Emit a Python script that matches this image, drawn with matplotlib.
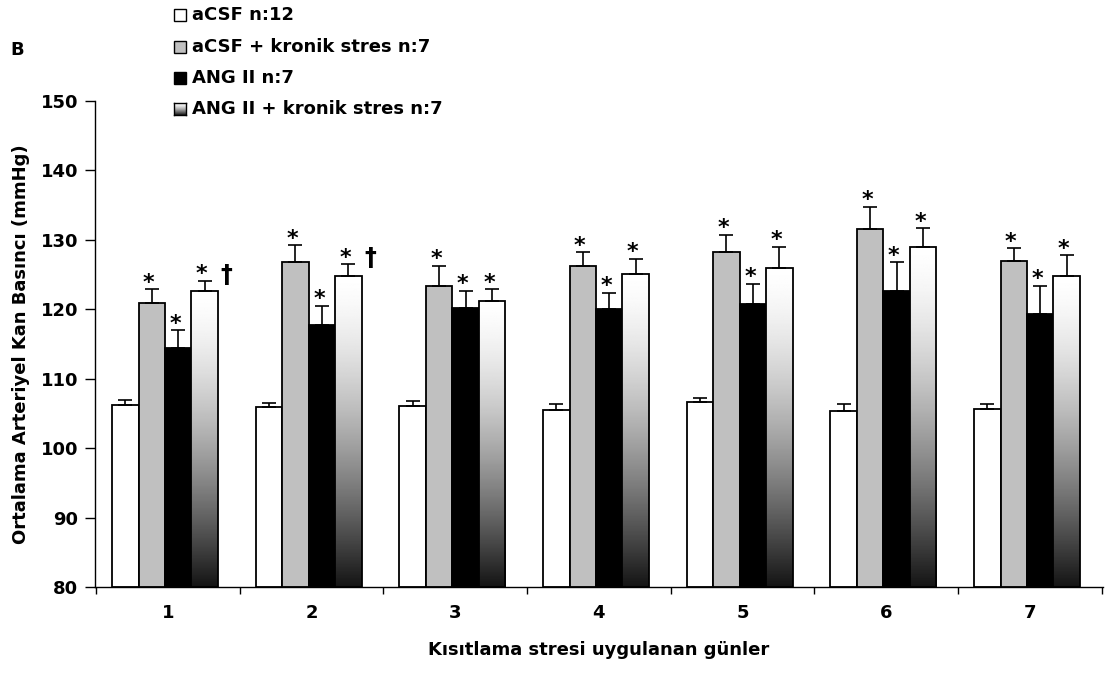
import matplotlib.pyplot as plt
from matplotlib.patches import Rectangle
import numpy as np

plt.rcParams['font.family'] = ['DejaVu Sans']
plt.rcParams['font.weight'] = 'bold'

gunler = ['1', '2', '3', '4', '5', '6', '7']
seriler = ['aCSF n:12', 'aCSF + kronik stres n:7', 'ANG II n:7', 'ANG II + kronik stres n:7']

acsf = [106.2, 105.9, 106.0, 105.5, 106.7, 105.3, 105.6]
acsf_hata = [0.8, 0.6, 0.8, 0.8, 0.5, 1.0, 0.7]
acsf_stres = [120.9, 126.8, 123.3, 126.3, 128.2, 131.5, 127.0]
acsf_stres_hata = [2.0, 2.4, 3.0, 1.9, 2.5, 3.3, 1.8]
ang = [114.4, 117.8, 120.2, 120.0, 120.7, 122.7, 119.3]
ang_hata = [2.6, 2.7, 2.5, 2.4, 3.0, 4.1, 4.1]
ang_stres = [122.6, 124.8, 121.2, 125.1, 126.0, 129.0, 124.8]
ang_stres_hata = [1.5, 1.7, 1.7, 2.2, 3.0, 2.7, 3.0]

# hangi barlarin ustunde * var (aCSF hic yok)
yildiz = [
    [False] * 7,
    [True] * 7,
    [True] * 7,
    [True] * 7,
]
hanc = [True, True, False, False, False, False, False]  # ANG II + stres yaninda †

degerler = [acsf, acsf_stres, ang, ang_stres]
hatalar = [acsf_hata, acsf_stres_hata, ang_hata, ang_stres_hata]
renkler = ['white', '#c0c0c0', 'black', None]

fig = plt.figure(figsize=(11.06, 6.75), dpi=100)
ax = fig.add_axes([0.0859, 0.1304, 0.9111, 0.72])

x = np.arange(1, 8)
w = 0.184
ofset = [-1.5 * w - 0.02, -0.5 * w - 0.02, 0.5 * w - 0.02, 1.5 * w - 0.02]

# gradyan: ustte beyaz, altta siyah
t = np.linspace(0, 1, 256).reshape(-1, 1)
grad = 1 - 0.92 * t ** 1.5

for i in range(4):
    xs = x + ofset[i]
    if renkler[i] is None:
        barlar = ax.bar(xs, np.array(degerler[i]) - 80, w, bottom=80, color='none',
                        edgecolor='black', linewidth=1.3, zorder=3)
        for b in barlar:
            x0, y0 = b.get_x(), b.get_y()
            im = ax.imshow(grad, cmap='gray', vmin=0, vmax=1, aspect='auto',
                           extent=[x0, x0 + b.get_width(), y0, y0 + b.get_height()],
                           zorder=2)
            im.set_clip_path(b)
    else:
        ax.bar(xs, np.array(degerler[i]) - 80, w, bottom=80, color=renkler[i],
               edgecolor='black', linewidth=1.3, zorder=2)
    ax.errorbar(xs, degerler[i], yerr=[np.zeros(7), hatalar[i]], fmt='none',
                ecolor='black', elinewidth=1.2, capsize=5, capthick=1.2, zorder=4)
    for j in range(7):
        ust = degerler[i][j] + hatalar[i][j]
        if yildiz[i][j]:
            ax.text(xs[j] - 0.02, ust - 0.5, '*', ha='center', va='bottom',
                    fontsize=16, fontweight='bold', zorder=5)
        if i == 3 and hanc[j]:
            ax.text(xs[j] + w * 0.6, ust - 0.9, '†', ha='left', va='bottom',
                    fontsize=17, fontweight='bold', zorder=5)

ax.set_xlim(0.493, 7.507)
ax.set_ylim(80, 150)
ax.set_yticks(np.arange(80, 151, 10))
ax.set_xticks(x)
ax.set_xticklabels(gunler)
ax.set_xticks(np.arange(0.5, 7.6, 1), minor=True)
ax.tick_params(axis='x', which='major', length=0, pad=12, labelsize=13)
ax.tick_params(axis='x', which='minor', length=5, direction='out', width=1)
ax.tick_params(axis='y', length=7, direction='out', width=1, labelsize=13, pad=5)
for s in ['top', 'right']:
    ax.spines[s].set_visible(False)
ax.spines['left'].set_linewidth(1)
ax.spines['bottom'].set_linewidth(1)

ax.set_xlabel('Kısıtlama stresi uygulanan günler', fontsize=13, fontweight='bold', labelpad=14)
ax.set_ylabel('Ortalama Arteriyel Kan Basıncı (mmHg)', fontsize=13, fontweight='bold', labelpad=8)

fig.text(10 / 1106, 1 - 50 / 675, 'B', fontsize=13, fontweight='bold', va='center')

# elle cizilen lejant
W, H = 1106, 675
satir_y = [15, 47, 78, 109]
for k, ad in enumerate(seriler):
    yc = satir_y[k]
    kx, ky = 174 / W, 1 - (yc + 6) / H
    kw, kh = 12 / W, 12 / H
    if renkler[k] is None:
        lax = fig.add_axes([kx, ky, kw, kh])
        lax.imshow(grad, cmap='gray', vmin=0, vmax=1, aspect='auto')
        lax.set_xticks([])
        lax.set_yticks([])
        for s in lax.spines.values():
            s.set_linewidth(1)
    else:
        fig.patches.append(Rectangle((kx, ky), kw, kh, transform=fig.transFigure,
                                     facecolor=renkler[k], edgecolor='black', linewidth=1))
    fig.text(192 / W, 1 - yc / H, ad, fontsize=13, fontweight='bold', va='center')

fig.savefig('out.png', dpi=100)
